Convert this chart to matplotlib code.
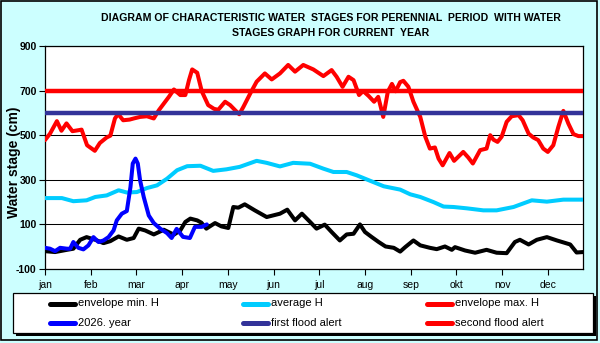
import matplotlib
matplotlib.use("Agg")
import matplotlib.pyplot as plt
from matplotlib.lines import Line2D
from matplotlib.patches import Rectangle

plt.rcParams['font.family'] = ['Liberation Sans', 'DejaVu Sans']

months = ['jan', 'feb', 'mar', 'apr', 'may', 'jun', 'jul', 'aug', 'sep', 'okt', 'nov', 'dec']

# x positions are in month units (0 = 1 jan)
max_x = [0.00, 0.11, 0.26, 0.36, 0.47, 0.60, 0.75, 0.80, 0.92, 1.09, 1.20, 1.35, 1.43, 1.53, 1.60, 1.71,
         1.85, 1.94, 2.08, 2.23, 2.38, 2.49, 2.60, 2.71, 2.82, 2.96, 3.07, 3.15, 3.22, 3.33, 3.43,
         3.57, 3.70, 3.79, 3.94, 4.05, 4.16, 4.25, 4.34, 4.49, 4.63, 4.81, 4.96, 5.14, 5.32, 5.47,
         5.65, 5.87, 6.09, 6.27, 6.38, 6.51, 6.64, 6.75, 6.87, 6.96, 7.08, 7.20, 7.29, 7.40, 7.50,
         7.59, 7.67, 7.77, 7.84, 7.95, 8.06, 8.21, 8.32, 8.42, 8.53, 8.61, 8.70, 8.85, 8.95, 9.04,
         9.15, 9.26, 9.36, 9.52, 9.66, 9.74, 9.81, 9.90, 9.99, 10.10, 10.21, 10.36, 10.45, 10.58,
         10.68, 10.79, 10.90, 11.00, 11.12, 11.23, 11.34, 11.45, 11.56, 11.67, 11.77]
max_h = [478, 507, 563, 520, 553, 518, 523, 525, 455, 430, 465, 490, 498, 575, 595, 567,
         570, 575, 582, 585, 575, 612, 642, 672, 705, 680, 680, 747, 795, 780, 697,
         635, 618, 614, 650, 635, 612, 594, 627, 687, 740, 777, 750, 777, 815, 785,
         815, 795, 765, 792, 762, 717, 762, 747, 680, 698, 676, 650, 672, 582, 695,
         730, 697, 738, 744, 717, 650, 582, 493, 440, 445, 395, 365, 420, 385, 403,
         425, 400, 373, 433, 440, 500, 480, 470, 493, 560, 585, 590, 567, 507,
         490, 478, 440, 425, 455, 537, 609, 552, 505, 496, 496]

avg_x = [0.00, 0.37, 0.62, 0.91, 1.10, 1.35, 1.61, 1.79, 2.01, 2.23, 2.45, 2.67, 2.89, 3.11, 3.40,
         3.68, 3.97, 4.26, 4.63, 4.85, 5.14, 5.43, 5.80, 6.09, 6.31, 6.60, 6.82, 7.12, 7.41, 7.77,
         7.99, 8.21, 8.50, 8.72, 8.94, 9.23, 9.59, 9.88, 10.25, 10.65, 10.98, 11.34, 11.77]
avg_h = [218, 218, 204, 208, 223, 230, 253, 243, 245, 263, 275, 305, 343, 361, 363,
         340, 347, 358, 385, 376, 360, 376, 372, 350, 335, 335, 320, 295, 271, 256,
         235, 223, 200, 180, 178, 172, 163, 163, 178, 208, 202, 211, 211]

min_x = [0.00, 0.22, 0.48, 0.62, 0.77, 0.91, 1.10, 1.28, 1.43, 1.61, 1.79, 1.94, 2.05, 2.19, 2.38,
         2.60, 2.82, 2.96, 3.07, 3.18, 3.33, 3.42, 3.53, 3.72, 3.86, 4.01, 4.12, 4.23, 4.37, 4.59,
         4.85, 5.14, 5.30, 5.47, 5.62, 5.80, 5.94, 6.12, 6.27, 6.45, 6.60, 6.75, 6.89, 7.00, 7.15,
         7.30, 7.45, 7.63, 7.77, 7.88, 8.06, 8.21, 8.42, 8.57, 8.75, 8.90, 8.97, 9.19, 9.41, 9.66,
         9.88, 10.10, 10.28, 10.39, 10.58, 10.76, 10.98, 11.20, 11.49, 11.63, 11.77]
min_h = [-20, -24, -14, -9, 31, 43, 31, 16, 25, 46, 31, 39, 81, 73, 55,
         76, 54, 73, 111, 126, 118, 108, 81, 106, 91, 84, 178, 175, 190, 163,
         133, 148, 166, 118, 148, 111, 81, 99, 66, 28, 55, 58, 100, 66, 43,
         21, 1, -5, -22, -2, 28, 6, -5, -11, 1, -14, -2, -17, -27, -14,
         -27, -29, 21, 31, 10, 31, 43, 28, 10, -26, -24]

cur_x = [0.00, 0.11, 0.22, 0.33, 0.48, 0.55, 0.62, 0.73, 0.84, 0.95, 1.06, 1.17, 1.28, 1.39, 1.50,
         1.57, 1.68, 1.79, 1.87, 1.92, 1.98, 2.03, 2.08, 2.16, 2.27, 2.38, 2.52, 2.67, 2.77, 2.88,
         3.02, 3.17, 3.28, 3.43, 3.54]
cur_h = [-5, -9, -20, -5, -9, -9, 21, -5, -12, 6, 43, 21, 28, 43, 73,
         118, 148, 160, 268, 373, 395, 373, 298, 223, 140, 106, 81, 61, 39, 80,
         44, 39, 89, 89, 100]

first_alert = 600
second_alert = 700

yticks = [-100, 100, 300, 500, 700, 900]

W, H = 600, 343
fig = plt.figure(figsize=(6.0, 3.43), dpi=100)
fig.patch.set_facecolor('#ccffff')

def fx(px):
    return px / W

def fy(py):
    return 1 - py / H

ax = fig.add_axes([fx(45), fy(269), fx(583) - fx(45), fy(46) - fy(269)])
ax.set_facecolor('white')

lw = 2.9
ax.plot(min_x, min_h, color='black', lw=lw, solid_joinstyle='round', solid_capstyle='round', zorder=3)
ax.plot(avg_x, avg_h, color='#00ccff', lw=lw, solid_joinstyle='round', solid_capstyle='round', zorder=3)
ax.plot(max_x, max_h, color='#ff0000', lw=lw, solid_joinstyle='round', solid_capstyle='round', zorder=3)
ax.plot(cur_x, cur_h, color='#0000ff', lw=lw, solid_joinstyle='round', solid_capstyle='round', zorder=4)
ax.axhline(first_alert, color='#333399', lw=3.2, zorder=5)
ax.axhline(second_alert, color='#ff0000', lw=3.2, zorder=5)

ax.set_xlim(0, 11.77)
ax.set_ylim(-100, 900)
ax.set_yticks(yticks)
ax.set_yticklabels([str(v) for v in yticks], fontweight='bold', fontsize=7.5)
ax.set_xticks(range(12))
ax.set_xticklabels(months, fontsize=7.5)
ax.grid(axis='y', color='black', lw=0.75, zorder=1)
ax.set_axisbelow(True)
ax.tick_params(axis='both', direction='out', length=4, width=0.8, color='black', pad=2)
ax.tick_params(axis='x', pad=4)
for s in ax.spines.values():
    s.set_color('black')
    s.set_linewidth(0.9)

ax.set_ylabel('Water stage (cm)', fontsize=10, fontweight='bold')
ax.yaxis.set_label_coords((21 - 45) / (583 - 45), 0.478)

fig.text(fx(331), fy(18), 'DIAGRAM OF CHARACTERISTIC WATER  STAGES FOR PERENNIAL  PERIOD  WITH WATER',
         ha='center', va='center', fontsize=7.6, fontweight='bold')
fig.text(fx(331), fy(32.5), 'STAGES GRAPH FOR CURRENT  YEAR',
         ha='center', va='center', fontsize=7.6, fontweight='bold')

# legend box with shadow
fig.add_artist(Rectangle((fx(16), fy(336)), fx(593) - fx(13), fy(293) - fy(333),
                         transform=fig.transFigure, facecolor='black', edgecolor='black', lw=0, zorder=1))
fig.add_artist(Rectangle((fx(13), fy(333)), fx(593) - fx(13), fy(293) - fy(333),
                         transform=fig.transFigure, facecolor='white', edgecolor='black', lw=0.9, zorder=2))

entries = [
    ('envelope min. H', 'black', 48, 303.5),
    ('average H', '#00ccff', 241, 303.5),
    ('envelope max. H', '#ff0000', 425, 303.5),
    ('2026. year', '#0000ff', 48, 322.5),
    ('first flood alert', '#333399', 241, 322.5),
    ('second flood alert', '#ff0000', 425, 322.5),
]
for label, color, x0, y0 in entries:
    fig.add_artist(Line2D([fx(x0 + 2), fx(x0 + 27)], [fy(y0), fy(y0)], transform=fig.transFigure,
                          color=color, lw=3.6, solid_capstyle='round', zorder=3))
    fig.text(fx(x0 + 30), fy(y0), label, ha='left', va='center', fontsize=8, zorder=3)

# outer border
fig.add_artist(Rectangle((fx(0.5), fy(340)), fx(597) - fx(0.5), fy(0.5) - fy(340),
                         transform=fig.transFigure, facecolor='none', edgecolor='black', lw=1.2, zorder=0))

fig.savefig('out.png', dpi=100, facecolor=fig.get_facecolor())
